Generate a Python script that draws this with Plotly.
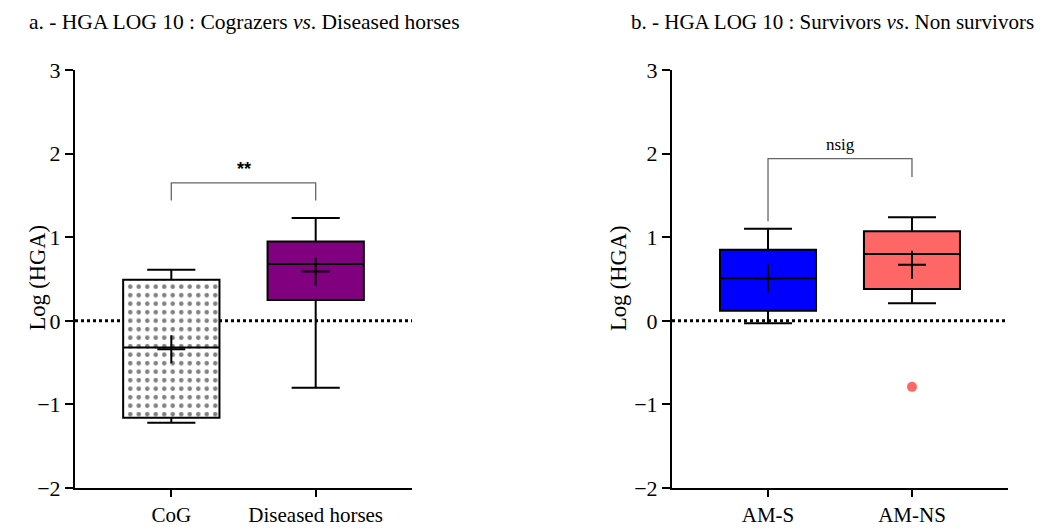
import plotly.graph_objects as go

# ---- data ----
cats_a = ["CoG", "Diseased horses"]
cats_b = ["AM-S", "AM-NS"]

a_lower = [-1.22, -0.80]
a_q1 = [-1.16, 0.25]
a_median = [-0.32, 0.68]
a_q3 = [0.49, 0.95]
a_upper = [0.61, 1.23]
a_mean = [-0.34, 0.59]

b_lower = [-0.03, 0.21]
b_q1 = [0.12, 0.38]
b_median = [0.51, 0.80]
b_q3 = [0.85, 1.07]
b_upper = [1.10, 1.24]
b_mean = [0.51, 0.67]
b_outlier_x = ["AM-NS"]
b_outlier_y = [-0.79]

a_bracket_y = [1.44, 1.65, 1.65, 1.44]
b_bracket_y = [1.19, 1.94, 1.94, 1.72]
a_sig_label = "**"
b_sig_label = "nsig"

y_ticks = [-2, -1, 0, 1, 2, 3]

SERIF = "Liberation Serif"
W, H = 1051, 529

fig = go.Figure()

# patterned fill behind CoG box
fig.add_trace(go.Bar(
    x=[cats_a[0]], base=[a_q1[0]], y=[a_q3[0] - a_q1[0]], width=0.667,
    marker=dict(color="white", line=dict(width=0),
                pattern=dict(shape=".", fgcolor="black", bgcolor="white", size=8.5, solidity=0.22)),
    xaxis="x", yaxis="y", showlegend=False, hoverinfo="skip"))

fills_a = ["rgba(0,0,0,0)", "#800080"]
for i, c in enumerate(cats_a):
    fig.add_trace(go.Box(
        x=[c], q1=[a_q1[i]], median=[a_median[i]], q3=[a_q3[i]],
        lowerfence=[a_lower[i]], upperfence=[a_upper[i]],
        width=0.667, whiskerwidth=0.5, fillcolor=fills_a[i],
        line=dict(color="black", width=2), boxpoints=False,
        xaxis="x", yaxis="y", showlegend=False))

fills_b = ["#0000FF", "#FF6666"]
for i, c in enumerate(cats_b):
    fig.add_trace(go.Box(
        x=[c], q1=[b_q1[i]], median=[b_median[i]], q3=[b_q3[i]],
        lowerfence=[b_lower[i]], upperfence=[b_upper[i]],
        width=0.667, whiskerwidth=0.5, fillcolor=fills_b[i],
        line=dict(color="black", width=2), boxpoints=False,
        xaxis="x2", yaxis="y2", showlegend=False))

# means
fig.add_trace(go.Scatter(x=cats_a, y=a_mean, mode="markers", xaxis="x", yaxis="y",
                         marker=dict(symbol="cross-thin", size=20, line=dict(color="black", width=2)),
                         showlegend=False))
fig.add_trace(go.Scatter(x=cats_b, y=b_mean, mode="markers", xaxis="x2", yaxis="y2",
                         marker=dict(symbol="cross-thin", size=20, line=dict(color="black", width=2)),
                         showlegend=False))
# outlier
fig.add_trace(go.Scatter(x=b_outlier_x, y=b_outlier_y, mode="markers", xaxis="x2", yaxis="y2",
                         marker=dict(color="#FF6666", size=10), showlegend=False))

# brackets
fig.add_trace(go.Scatter(x=[cats_a[0], cats_a[0], cats_a[1], cats_a[1]], y=a_bracket_y,
                         mode="lines", line=dict(color="#666666", width=1.3),
                         xaxis="x", yaxis="y", showlegend=False))
fig.add_trace(go.Scatter(x=[cats_b[0], cats_b[0], cats_b[1], cats_b[1]], y=b_bracket_y,
                         mode="lines", line=dict(color="#666666", width=1.3),
                         xaxis="x2", yaxis="y2", showlegend=False))

axis_common = dict(showline=True, linecolor="black", linewidth=2, ticks="outside",
                   tickwidth=2, tickcolor="black", showgrid=False, zeroline=False,
                   automargin=False)
yfont = dict(family=SERIF, size=22, color="black")
xfont = dict(family=SERIF, size=21, color="black")

ydom = [1 - 488 / H, 1 - 70 / H]
fig.update_layout(
    width=W, height=H, margin=dict(l=0, r=0, t=0, b=0),
    plot_bgcolor="white", paper_bgcolor="white", barmode="overlay",
    xaxis=dict(domain=[75 / W, 412 / W], type="category", categoryorder="array",
               categoryarray=cats_a, range=[-0.667, 1.667], ticklen=7, tickfont=xfont,
               anchor="y", **axis_common),
    yaxis=dict(domain=ydom, range=[-2, 3], tickvals=y_ticks, ticklen=8, tickfont=yfont,
               anchor="x", **axis_common),
    xaxis2=dict(domain=[672 / W, 1008 / W], type="category", categoryorder="array",
                categoryarray=cats_b, range=[-0.667, 1.667], ticklen=7, tickfont=xfont,
                anchor="y2", **axis_common),
    yaxis2=dict(domain=ydom, range=[-2, 3], tickvals=y_ticks, ticklen=8, tickfont=yfont,
                anchor="x2", **axis_common),
)

# dotted zero lines
for xr, yr in [("x domain", "y"), ("x2 domain", "y2")]:
    fig.add_shape(type="line", xref=xr, yref=yr, x0=0, x1=1, y0=0, y1=0,
                  line=dict(color="black", width=3, dash="dot"), layer="below")

# annotations
fig.add_annotation(x=27 / W, y=1 - 22 / H, xref="paper", yref="paper", xanchor="left", yanchor="middle",
                   text="a. - HGA LOG 10 : Cograzers <i>vs</i>. Diseased horses", showarrow=False,
                   font=dict(family=SERIF, size=21.5, color="black"))
fig.add_annotation(x=629 / W, y=1 - 22 / H, xref="paper", yref="paper", xanchor="left", yanchor="middle",
                   text="b. - HGA LOG 10 : Survivors <i>vs</i>. Non survivors", showarrow=False,
                   font=dict(family=SERIF, size=21, color="black"))
fig.add_annotation(x=22 / W, y=1 - 278 / H, xref="paper", yref="paper", textangle=-90,
                   text="Log (HGA)", showarrow=False, font=dict(family=SERIF, size=22.5, color="black"))
fig.add_annotation(x=618 / W, y=1 - 278 / H, xref="paper", yref="paper", textangle=-90,
                   text="Log (HGA)", showarrow=False, font=dict(family=SERIF, size=22.5, color="black"))
fig.add_annotation(x=0.5, y=a_bracket_y[1], xref="x", yref="y", yanchor="bottom", yshift=2,
                   text="<b>%s</b>" % a_sig_label, showarrow=False,
                   font=dict(family="Liberation Sans", size=18, color="black"))
fig.add_annotation(x=0.5, y=b_bracket_y[1], xref="x2", yref="y2", yanchor="bottom", yshift=3,
                   text=b_sig_label, showarrow=False,
                   font=dict(family=SERIF, size=17, color="black"))

fig.write_html("out.html")
